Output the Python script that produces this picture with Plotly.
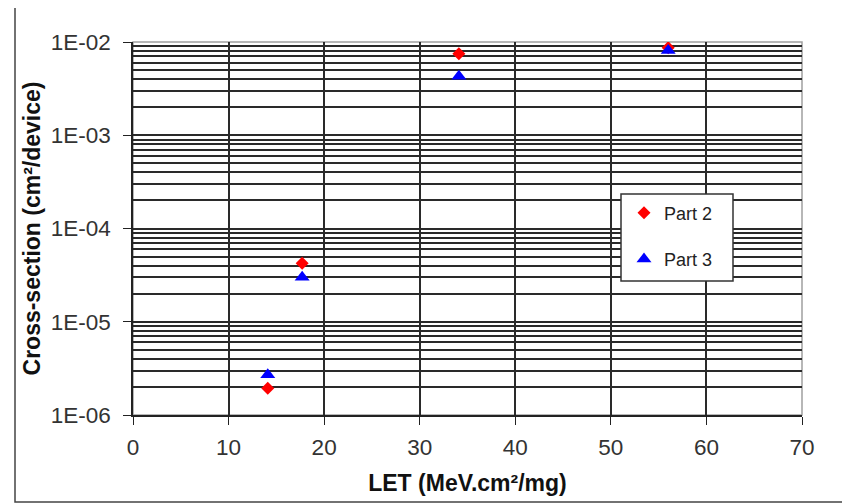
import plotly.graph_objects as go

# Data
let_part2 = [14.1, 17.7, 34.1, 56.0]
xs_part2 = [1.93e-6, 4.25e-5, 7.5e-3, 8.7e-3]
let_part3 = [14.1, 17.7, 34.1, 56.0]
xs_part3 = [2.7e-6, 3.0e-5, 4.3e-3, 8.1e-3]

x_ticks = [0, 10, 20, 30, 40, 50, 60, 70]
y_major = [1e-6, 1e-5, 1e-4, 1e-3, 1e-2]
y_labels = ["1E-06", "1E-05", "1E-04", "1E-03", "1E-02"]
y_minor = [m * 10.0 ** e for e in range(-6, -2) for m in range(2, 10)]

FONT = "Liberation Sans, Arial, sans-serif"
OFF = 8  # page body margin
W, H = 850 - OFF, 504 - OFF
L, R, T, B = 133 - OFF, 48, 42 - OFF, 89
pw, ph = W - L - R, H - T - B

def px_x(p):
    return (p - OFF - L) / pw

def px_y(p):
    return (H - B - (p - OFF)) / ph

fig = go.Figure()
fig.add_trace(go.Scatter(
    x=let_part2, y=xs_part2, mode="markers", name="Part 2",
    legendgroup="p2",
    marker=dict(symbol="diamond", size=10, color="#ff0000"),
))
fig.add_trace(go.Scatter(
    x=let_part3, y=xs_part3, mode="markers", name="Part 3",
    legendgroup="p3",
    marker=dict(symbol="triangle-up", size=13, color="#0000ff"),
))

grid = "#2a2a2a"
fig.update_layout(
    width=W, height=H,
    margin=dict(l=L, r=R, t=T, b=B, autoexpand=False),
    paper_bgcolor="white", plot_bgcolor="white",
    font=dict(family=FONT, color="#222"),
    showlegend=True,
    legend=dict(
        x=px_x(624), y=px_y(194.5), xanchor="left", yanchor="top",
        bgcolor="rgba(0,0,0,0)", borderwidth=0,
        font=dict(size=18, family=FONT, color="#222"),
        tracegroupgap=20,
    ),
    xaxis=dict(
        range=[0, 70], tickvals=x_ticks, ticks="outside", ticklen=8,
        tickcolor="#222", tickfont=dict(size=22.5, color="#333"),
        showgrid=True, gridcolor=grid, gridwidth=1.5,
        showline=True, linecolor="#222", linewidth=1.5,
        zeroline=False, ticklabelstandoff=3,
        title=dict(text="<b>LET (MeV.cm²/mg)</b>", font=dict(size=23, color="#111"), standoff=16),
    ),
    yaxis=dict(
        type="log", range=[-6, -2], tickvals=y_major, ticktext=y_labels,
        ticks="outside", ticklen=8, tickcolor="#222",
        tickfont=dict(size=22.5, color="#333"),
        showgrid=True, gridcolor=grid, gridwidth=1.5,
        showline=True, linecolor="#222", linewidth=1.5,
        zeroline=False, ticklabelstandoff=8,
        minor=dict(tickvals=y_minor, showgrid=True, gridcolor=grid, gridwidth=1.5, ticks=""),
        title=dict(text="<b>Cross-section (cm²/device)</b>", font=dict(size=23, color="#111"), standoff=4),
    ),
    shapes=[
        dict(type="rect", xref="paper", yref="paper", x0=0, x1=1, y0=0, y1=1,
             line=dict(color="#a0a0a0", width=1.5), layer="below"),
        dict(type="rect", xref="paper", yref="paper",
             x0=px_x(15), x1=px_x(848), y0=px_y(502), y1=px_y(4),
             line=dict(color="#444", width=1.5), layer="below"),
        # legend box
        dict(type="rect", xref="paper", yref="paper",
             x0=px_x(621), x1=px_x(733), y0=px_y(281), y1=px_y(194),
             fillcolor="white", line=dict(color="#333", width=1.5), layer="above"),
    ],
)

fig.write_html("out.html")
